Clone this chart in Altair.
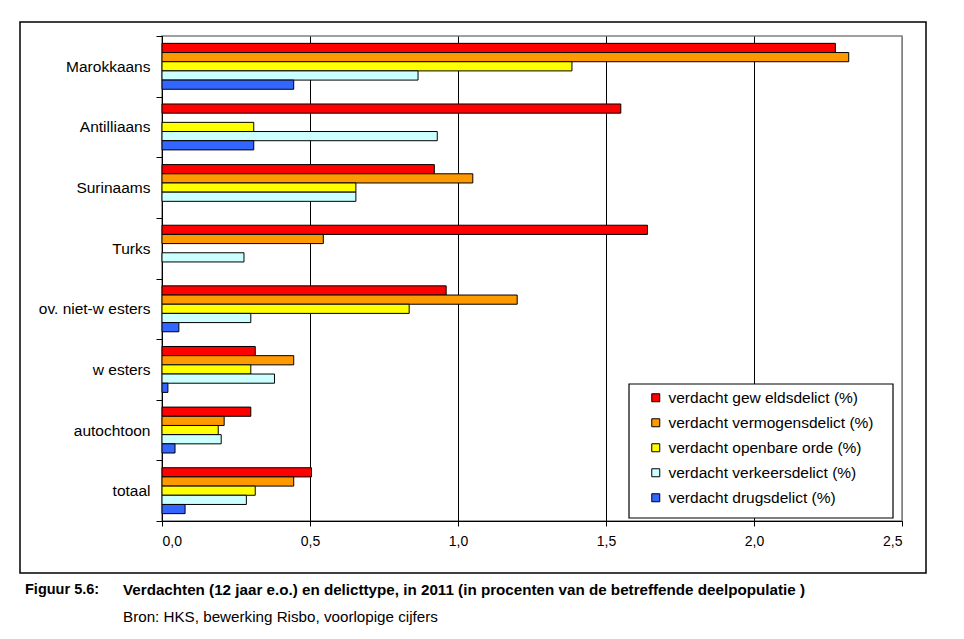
import altair as alt
import pandas as pd

categories = ["Marokkaans", "Antilliaans", "Surinaams", "Turks",
              "ov. niet-w esters", "w esters", "autochtoon", "totaal"]
series = ["verdacht gew eldsdelict (%)", "verdacht vermogensdelict (%)",
          "verdacht openbare orde (%)", "verdacht verkeersdelict (%)",
          "verdacht drugsdelict (%)"]
geweld = [2.275, 1.55, 0.92, 1.64, 0.96, 0.315, 0.30, 0.505]
vermogen = [2.32, None, 1.05, 0.545, 1.20, 0.445, 0.21, 0.445]
openbaar = [1.385, 0.31, 0.655, None, 0.835, 0.30, 0.19, 0.315]
verkeer = [0.865, 0.93, 0.655, 0.277, 0.30, 0.38, 0.20, 0.285]
drugs = [0.445, 0.31, None, None, 0.057, 0.02, 0.044, 0.078]
colors = ["#FF0000", "#FF9900", "#FFFF00", "#CCFFFF", "#3366FF"]
x_ticks = [0, 0.5, 1.0, 1.5, 2.0, 2.5]

caption_fig = ["Figuur 5.6:"]
caption_title = ["Verdachten (12 jaar e.o.) en delicttype, in 2011 (in procenten van de betreffende deelpopulatie )"]
caption_src = ["Bron: HKS, bewerking Risbo, voorlopige cijfers"]

rows = []
for s, vals in zip(series, [geweld, vermogen, openbaar, verkeer, drugs]):
    for c, v in zip(categories, vals):
        if v is not None:
            rows.append({"cat": c, "serie": s, "value": v})
df = pd.DataFrame(rows)

FONT = "Liberation Sans"

bars = alt.Chart(df).mark_bar(stroke="black", strokeWidth=1).encode(
    x=alt.X("value:Q",
            scale=alt.Scale(domain=[0, 2.5], nice=False),
            axis=alt.Axis(values=x_ticks, title=None,
                          labelExpr="replace(format(datum.value, '.1f'), '.', ',')",
                          grid=True,
                          gridColor={"condition": {"test": "datum.value >= 2.5", "value": "#808080"}, "value": "black"},
                          gridWidth=1,
                          tickSize=5, tickColor="black", domainColor="black",
                          labelFontSize=14, labelFont=FONT, labelColor="black",
                          labelPadding=8)),
    y=alt.Y("cat:N", sort=categories,
            scale=alt.Scale(paddingInner=0, paddingOuter=0),
            axis=alt.Axis(title=None, tickBand="extent", tickSize=6,
                          tickColor="black", domainColor="black",
                          labelFontSize=15.5, labelFont=FONT, labelColor="black",
                          labelPadding=6, grid=False)),
    yOffset=alt.YOffset("serie:N", sort=series,
                        scale=alt.Scale(domain=series, paddingInner=0, paddingOuter=0.8)),
    color=alt.Color("serie:N", sort=series,
                    scale=alt.Scale(domain=series, range=colors),
                    legend=alt.Legend(title=None, orient="none",
                                      legendX=486, legendY=354,
                                      padding=0, symbolType="square",
                                      symbolSize=64, symbolStrokeColor="black",
                                      symbolStrokeWidth=1, symbolOffset=0,
                                      labelOffset=5,
                                      labelFontSize=15.5, labelFont=FONT,
                                      labelColor="black", labelLimit=400,
                                      rowPadding=8)),
)

legend_box = alt.Chart(pd.DataFrame({"a": [0]})).mark_rect(
    fill="white", stroke="black", strokeWidth=1.2
).encode(x=alt.value(467), x2=alt.value(731), y=alt.value(348), y2=alt.value(482))

frame = alt.Chart(pd.DataFrame({"a": [0]})).mark_rect(
    fill="white", fillOpacity=0, stroke="black", strokeWidth=1.5
).encode(x=alt.value(-142), x2=alt.value(764), y=alt.value(-14), y2=alt.value(537))

cap1 = alt.Chart(pd.DataFrame({"t": caption_fig})).mark_text(
    align="left", baseline="middle", fontSize=14.5, fontWeight="bold", font=FONT, color="black"
).encode(x=alt.value(-137), y=alt.value(554), text="t:N")
cap2 = alt.Chart(pd.DataFrame({"t": caption_title})).mark_text(
    align="left", baseline="middle", fontSize=15.2, fontWeight="bold", font=FONT, color="black"
).encode(x=alt.value(-39), y=alt.value(554), text="t:N")
cap3 = alt.Chart(pd.DataFrame({"t": caption_src})).mark_text(
    align="left", baseline="middle", fontSize=15.2, font=FONT, color="black"
).encode(x=alt.value(-39), y=alt.value(581), text="t:N")

chart = alt.layer(frame, bars, legend_box, cap1, cap2, cap3).properties(
    width=740, height=485,
    autosize=alt.AutoSizeParams(type="none"),
    padding={"left": 154, "top": 28, "right": 50, "bottom": 110},
).configure_view(stroke="#808080", strokeWidth=1.5)

chart.save("out.html", embed_options={"renderer": "svg", "actions": False})
